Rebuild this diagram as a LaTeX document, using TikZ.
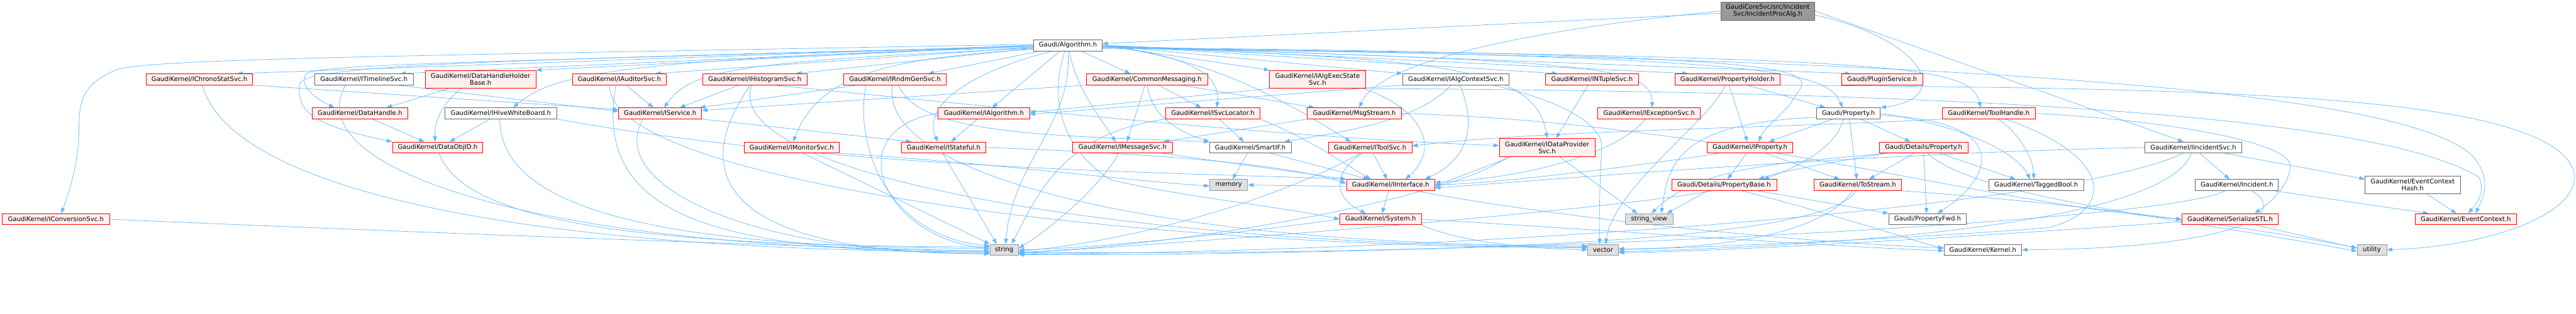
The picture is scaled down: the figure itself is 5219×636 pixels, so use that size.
\documentclass[tikz,border=0pt]{standalone}
\usepackage{fontspec}
\setmainfont{DejaVu Sans}
\usetikzlibrary{arrows.meta}
\definecolor{edgec}{HTML}{63B8FF}
\definecolor{redb}{HTML}{FF0000}
\definecolor{redf}{HTML}{FFF0F0}
\definecolor{grayb}{HTML}{666666}
\definecolor{lgrayb}{HTML}{999999}
\definecolor{lgrayf}{HTML}{E0E0E0}
\definecolor{rootf}{HTML}{999999}
\pgfdeclarelayer{bgw}
\pgfdeclarelayer{edges}
\pgfsetlayers{bgw,edges,main}
\newcommand\gnode[7]{\node[#2,minimum width=#5pt,minimum height=#6pt] (#1) at (#3,-#4) {#7};}
\tikzset{
  box/.style={inner sep=0pt,align=center,line width=1pt,font=\fontsize{12.9pt}{14pt}\selectfont},
  rn/.style={box,draw=redb,fill=redf},
  wn/.style={box,draw=grayb,fill=white},
  gn/.style={box,draw=lgrayb,fill=lgrayf},
  rootn/.style={box,draw=grayb,fill=rootf},
  e/.style={draw=edgec,line width=0.9pt,-{Triangle[length=11pt,width=8pt]}}
}
\begin{document}
\begin{tikzpicture}[x=1pt,y=1pt]
\useasboundingbox (0,0) rectangle (5219,-636);
\begin{pgfonlayer}{bgw}
\fill[white] (0,0) rectangle (5219,-636);
\end{pgfonlayer}
% row 0-1
\gnode{root}{rootn}{3581.5}{22.5}{191}{37}{GaudiCoreSvc/src/Incident\\Svc/IncidentProcAlg.h}
\gnode{alg}{wn}{2163.5}{92}{139}{22.5}{Gaudi/Algorithm.h}
% row 2
\gnode{chrono}{rn}{404}{161}{216}{22.5}{GaudiKernel/IChronoStatSvc.h}
\gnode{timeline}{wn}{737.3}{161}{200}{22.5}{GaudiKernel/ITimelineSvc.h}
\gnode{dhhb}{rn}{973.5}{161}{224.4}{36.5}{GaudiKernel/DataHandleHolder\\Base.h}
\gnode{auditor}{rn}{1254.7}{161}{190.7}{22.5}{GaudiKernel/IAuditorSvc.h}
\gnode{histo}{rn}{1529.2}{161}{211.7}{22.5}{GaudiKernel/IHistogramSvc.h}
\gnode{rndm}{rn}{1813.3}{161}{208}{22.5}{GaudiKernel/IRndmGenSvc.h}
\gnode{cmsg}{rn}{2323.9}{161}{245.7}{22.5}{GaudiKernel/CommonMessaging.h}
\gnode{aes}{rn}{2669.2}{161}{193.7}{36.5}{GaudiKernel/IAlgExecState\\Svc.h}
\gnode{actx}{wn}{2949.5}{161}{215.7}{22.5}{GaudiKernel/IAlgContextSvc.h}
\gnode{ntuple}{rn}{3225.5}{161}{187.7}{22.5}{GaudiKernel/INTupleSvc.h}
\gnode{pholder}{rn}{3500}{161}{213.3}{22.5}{GaudiKernel/PropertyHolder.h}
\gnode{plugin}{rn}{3813.3}{161}{163.3}{22.5}{Gaudi/PluginService.h}
% row 3
\gnode{dhandle}{rn}{729.2}{230}{193.7}{22.5}{GaudiKernel/DataHandle.h}
\gnode{hive}{wn}{1014.7}{230}{226.7}{22.5}{GaudiKernel/IHiveWhiteBoard.h}
\gnode{iservice}{rn}{1337.5}{230}{168.3}{22.5}{GaudiKernel/IService.h}
\gnode{ialg}{rn}{1993.2}{230}{185}{22.5}{GaudiKernel/IAlgorithm.h}
\gnode{svcloc}{rn}{2457.3}{230}{190.7}{22.5}{GaudiKernel/ISvcLocator.h}
\gnode{msgstream}{rn}{2743.8}{230}{191}{22.5}{GaudiKernel/MsgStream.h}
\gnode{exc}{rn}{3341.2}{230}{207.7}{22.5}{GaudiKernel/IExceptionSvc.h}
\gnode{prop}{wn}{3745}{230}{128.7}{22.5}{Gaudi/Property.h}
\gnode{toolh}{rn}{4029.2}{230}{188.3}{22.5}{GaudiKernel/ToolHandle.h}
% row 4
\gnode{dataobjid}{rn}{886.7}{299.3}{183.3}{22.5}{GaudiKernel/DataObjID.h}
\gnode{monitor}{rn}{1604}{299.3}{193.3}{22.5}{GaudiKernel/IMonitorSvc.h}
\gnode{stateful}{rn}{1911.8}{299.3}{171.7}{22.5}{GaudiKernel/IStateful.h}
\gnode{imsgsvc}{rn}{2274.3}{299.3}{202}{22.5}{GaudiKernel/IMessageSvc.h}
\gnode{smartif}{wn}{2533.2}{299.3}{165}{22.5}{GaudiKernel/SmartIF.h}
\gnode{toolsvc}{rn}{2775.8}{299.3}{169.7}{22.5}{GaudiKernel/IToolSvc.h}
\gnode{dps}{rn}{3134.5}{299.3}{193.7}{36.5}{GaudiKernel/IDataProvider\\Svc.h}
\gnode{iprop}{rn}{3545.3}{299.3}{174}{22.5}{GaudiKernel/IProperty.h}
\gnode{dprop}{rn}{3897.2}{299.3}{179}{22.5}{Gaudi/Details/Property.h}
\gnode{incsvc}{wn}{4443.8}{299.3}{195.7}{22.5}{GaudiKernel/IIncidentSvc.h}
% row 5
\gnode{memory}{gn}{2489.3}{375.3}{76.7}{22.5}{memory}
\gnode{iif}{rn}{2817.3}{375.3}{178.7}{22.5}{GaudiKernel/IInterface.h}
\gnode{pbase}{rn}{3493}{375.3}{212.7}{22.5}{Gaudi/Details/PropertyBase.h}
\gnode{tostream}{rn}{3763.8}{375.3}{177.7}{22.5}{GaudiKernel/ToStream.h}
\gnode{tagged}{wn}{4125.3}{375.3}{192}{22.5}{GaudiKernel/TaggedBool.h}
\gnode{incident}{wn}{4531.8}{375.3}{168.3}{22.5}{GaudiKernel/Incident.h}
\gnode{ech}{wn}{4888}{375.3}{192.7}{36}{GaudiKernel/EventContext\\Hash.h}
% row 6
\gnode{conv}{rn}{113.2}{444.7}{217}{22.5}{GaudiKernel/IConversionSvc.h}
\gnode{system}{rn}{2797.2}{444.7}{165.7}{22.5}{GaudiKernel/System.h}
\gnode{sv}{gn}{3341}{444.7}{96.7}{22.5}{string\_view}
\gnode{pfwd}{wn}{3905.3}{444.7}{157.3}{22.5}{Gaudi/PropertyFwd.h}
\gnode{sstl}{rn}{4518.3}{444.7}{195.3}{22.5}{GaudiKernel/SerializeSTL.h}
\gnode{evctx}{rn}{4995.7}{444.7}{204.7}{22.5}{GaudiKernel/EventContext.h}
% row 7
\gnode{string}{gn}{2034.5}{506.7}{57.7}{22}{string}
\gnode{vector}{gn}{3247.8}{506.7}{62.3}{22}{vector}
\gnode{kernel}{wn}{4017.2}{506.7}{157.7}{22}{GaudiKernel/Kernel.h}
\gnode{utility}{gn}{4805.5}{506.7}{59.7}{22}{utility}

\begin{pgfonlayer}{edges}
% root
\draw[e] (root) -- (alg);
\draw[e] (root.west) .. controls (3200,-50) and (2800,-110) .. ([xshift=10pt]msgstream.north);
\draw[e] (root.east) -- ([xshift=-20pt]incsvc.north);
\draw[e] ([yshift=-8pt]root.east) .. controls (3900,-80) and (3960,-200) .. (prop.north east);
% alg, left side
\draw[e] (alg.west) -- ([xshift=-32pt]chrono.north east);
\draw[e] ([yshift=2pt]alg.west) .. controls (900,-112) and (330,-118) .. (240,-140) .. controls (170,-168) and (160,-200) .. (160,-260) .. controls (160,-330) and (140,-390) .. ([xshift=11pt]conv.north);
\draw[e] (alg.west) -- ([xshift=-27pt]timeline.north east);
\draw[e] ([yshift=-2pt]alg.west) .. controls (1000,-125) and (640,-130) .. (620,-150) .. controls (605,-175) and (640,-200) .. ([xshift=-52pt]dhandle.north);
\draw[e] ([yshift=-2pt]alg.west) .. controls (1000,-122) and (620,-132) .. (607,-170) .. controls (600,-230) and (640,-255) .. (dataobjid.north west);
\draw[e] (alg.west) -- (dhhb.north east);
\draw[e] ([yshift=-4pt]alg.west) .. controls (1250,-120) and (1120,-150) .. ([xshift=25pt]hive.north);
\draw[e] ([yshift=-4pt]alg.west) -- ([xshift=-23pt]auditor.north east);
\draw[e] ([yshift=-6pt]alg.west) .. controls (1500,-125) and (1400,-140) .. ([xshift=8pt]iservice.north);
\draw[e] ([yshift=-6pt]alg.west) -- ([xshift=-23pt]histo.north east);
\draw[e] ([yshift=-8pt]alg.west) .. controls (1800,-118) and (1660,-150) .. ([xshift=3pt]monitor.north);
\draw[e] ([xshift=13pt]alg.south west) -- ([xshift=-37pt]rndm.north east);
\draw[e] ([xshift=38pt]alg.south west) .. controls (1950,-150) and (1870,-220) .. ([xshift=-12pt]stateful.north);
\draw[e] ([xshift=54pt]alg.south west) -- ([xshift=17pt]ialg.north);
\draw[e] ([xshift=64pt]alg.south west) .. controls (2125,-200) and (2150,-300) .. (2250,-365) .. controls (2400,-400) and (2600,-420) .. (system.west);
\draw[e] (alg.south) .. controls (2175,-250) and (2050,-330) .. ([xshift=3pt]string.north);
\draw[e] ([xshift=73pt]alg.south west) .. controls (2180,-180) and (2230,-240) .. ([xshift=-14pt]imsgsvc.north);
\draw[e] ([xshift=-43pt]alg.south east) -- ([xshift=-34pt]cmsg.north);
% alg, right side
\draw[e] (alg.east) .. controls (2380,-110) and (2475,-140) .. ([xshift=8pt]svcloc.north);
\draw[e] (alg.east) -- (aes.north west);
\draw[e] (alg.east) .. controls (2450,-120) and (2580,-190) .. ([xshift=-39pt]toolsvc.north);
\draw[e] (alg.east) -- (actx.north west);
\draw[e] (alg.east) -- ([xshift=-70pt]ntuple.north);
\draw[e] ([yshift=-2pt]alg.east) .. controls (2900,-120) and (3110,-130) .. (dps.north);
\draw[e] ([yshift=-2pt]alg.east) .. controls (3200,-125) and (3347,-130) .. ([xshift=6pt]exc.north);
\draw[e] (alg.east) -- ([xshift=27pt]pholder.north west);
\draw[e] ([yshift=-4pt]alg.east) .. controls (3680,-110) and (3680,-140) .. (3640,-190) .. controls (3620,-230) and (3575,-255) .. ([xshift=18pt]iprop.north);
\draw[e] ([yshift=-4pt]alg.east) .. controls (3560,-115) and (3700,-140) .. ([xshift=-12pt]prop.north);
\draw[e] (alg.east) -- ([xshift=18pt]plugin.north west);
\draw[e] ([yshift=-6pt]alg.east) .. controls (3900,-115) and (3990,-135) .. ([xshift=-16pt]toolh.north);
\draw[e] ([yshift=-6pt]alg.east) .. controls (4200,-120) and (4900,-200) .. (5013,-320) .. controls (5050,-370) and (5030,-400) .. ([xshift=20pt]evctx.north);
% chrono, timeline, dhhb, dhandle
\draw[e] (chrono.south east) -- ([yshift=8pt]iservice.west);
\draw[e] ([xshift=6pt]chrono.south) .. controls +(-75:230pt) and +(-900,0) .. ([yshift=-4pt]string.west);
\draw[e] ([xshift=-34pt]timeline.south east) -- ([yshift=4pt]iservice.west);
\draw[e] ([xshift=-37pt]timeline.south) .. controls +(-120:200pt) and +(-900,0) .. ([yshift=-2pt]string.west);
\draw[e] ([xshift=-65pt]dhhb.south) -- ([xshift=54pt]dhandle.north);
\draw[e] ([xshift=-39pt]dhhb.south) .. controls (890,-215) and (880,-250) .. ([xshift=-5pt]dataobjid.north);
\draw[e] ([xshift=26pt]dhandle.south) -- ([xshift=-27pt]dataobjid.north);
% auditor, histo, rndm
\draw[e] ([xshift=-82pt]auditor.south east) -- ([xshift=-14pt]iservice.north);
\draw[e] ([xshift=-7pt]auditor.south) .. controls +(-100:250pt) and +(-600,0) .. ([yshift=-6pt]string.west);
\draw[e] ([xshift=-20pt]auditor.south) .. controls +(0,-200) and +(-900,0) .. ([yshift=4pt]vector.west);
\draw[e] ([xshift=-32pt]histo.south) -- ([xshift=-45pt]iservice.north east);
\draw[e] ([xshift=-9pt]histo.south) .. controls +(-125:250pt) and +(-500,0) .. ([yshift=-8pt]string.west);
\draw[e] ([xshift=-6pt]histo.south) .. controls +(-110:200pt) and +(-900,0) .. ([yshift=6pt]vector.west);
\draw[e] ([xshift=38pt]histo.south) .. controls (2000,-215) and (2600,-280) .. ([yshift=4pt]dps.west);
\draw[e] ([xshift=28pt]rndm.south west) -- ([xshift=-4pt]iservice.north east);
\draw[e] ([xshift=-59pt]rndm.south) .. controls (1730,-300) and (1800,-480) .. ([yshift=8pt]string.west);
\draw[e] ([xshift=-5pt]rndm.south) .. controls +(-100:180pt) and +(-900,0) .. ([yshift=8pt]vector.west);
\draw[e] ([xshift=7pt]rndm.south) .. controls (1860,-270) and (2100,-275) .. (smartif.north west);
% cmsg
\draw[e] (cmsg.south west) -- ([yshift=6pt]iservice.east);
\draw[e] ([xshift=-4pt]cmsg.south) -- ([xshift=9pt]imsgsvc.north);
\draw[e] ([xshift=1pt]cmsg.south) .. controls (2330,-230) and (2380,-265) .. (smartif.north west);
\draw[e] ([xshift=23pt]cmsg.south) -- ([xshift=-24pt]svcloc.north);
\draw[e] ([xshift=-54pt]cmsg.south east) -- ([xshift=-81pt]msgstream.north);
% aes, actx, ntuple
\draw[e] (aes.south west) -- ([yshift=2pt]ialg.east);
\draw[e] ([xshift=-4pt]aes.south east) .. controls (2880,-220) and (2920,-300) .. ([xshift=30pt]iif.north);
\draw[e] (aes.south east) .. controls (3800,-185) and (4800,-220) .. (5023,-360) .. controls (5035,-390) and (5020,-410) .. ([xshift=5pt]evctx.north);
\draw[e] (actx.south west) -- ([yshift=-2pt]ialg.east);
\draw[e] ([xshift=8pt]actx.south) .. controls (2990,-250) and (2980,-320) .. ([xshift=-20pt]iif.north east);
\draw[e] ([xshift=-10pt]actx.south) .. controls (2870,-250) and (2700,-270) .. ([xshift=-14pt]smartif.north east);
\draw[e] ([xshift=-34pt]actx.south east) .. controls (3150,-200) and (3250,-250) .. (3245,-300) .. controls (3240,-400) and (3240,-450) .. ([xshift=-7pt]vector.north);
\draw[e] ([xshift=-8pt]ntuple.south) -- ([xshift=18pt]dps.north);
% pholder
\draw[e] ([xshift=3pt]pholder.south) -- ([xshift=-5pt]iprop.north);
\draw[e] ([xshift=40pt]pholder.south) -- ([xshift=-47pt]prop.north);
\draw[e] ([xshift=-5pt]pholder.south) .. controls (3470,-240) and (3270,-380) .. ([xshift=5pt]vector.north);
\draw[e] (pholder.south east) .. controls (4500,-180) and (5150,-190) .. (5213,-343) .. controls (5240,-430) and (5050,-500) .. (utility.east);
% prop
\draw[e] ([xshift=-32pt]prop.south) -- ([xshift=38pt]iprop.north);
\draw[e] ([xshift=-10pt]prop.south) .. controls (3720,-300) and (3640,-340) .. ([xshift=80pt]pbase.north);
\draw[e] ([xshift=2pt]prop.south) -- ([xshift=-2pt]tostream.north);
\draw[e] ([xshift=25pt]prop.south) -- ([xshift=-27pt]dprop.north);
\draw[e] (prop.east) .. controls (3950,-250) and (4080,-300) .. ([xshift=-12pt]tagged.north);
\draw[e] ([yshift=-4pt]prop.east) .. controls (4080,-245) and (4040,-360) .. ([xshift=20pt]pfwd.north);
\draw[e] ([yshift=-8pt]prop.west) .. controls (3400,-250) and (3380,-330) .. ([xshift=25pt]sv.north);
% toolh
\draw[e] (toolh.south west) .. controls (3600,-260) and (3100,-265) .. ([yshift=3pt]toolsvc.east);
\draw[e] ([xshift=19pt]toolh.south) .. controls (4090,-270) and (4120,-320) .. ([xshift=-5pt]tagged.north);
\draw[e] (toolh.east) .. controls (4400,-245) and (4650,-290) .. (4640,-340) .. controls (4635,-380) and (4600,-410) .. ([xshift=50pt]sstl.north);
\draw[e] ([xshift=34pt]toolh.south) .. controls (4290,-320) and (4280,-430) .. (4150,-462) .. controls (3900,-482) and (3500,-500) .. (vector.east);
% dataobjid, hive
\draw[e] ([xshift=3pt]dataobjid.south) .. controls +(-70:150pt) and +(-700,0) .. ([yshift=6pt]string.west);
\draw[e] ([xshift=-22pt]hive.south) -- ([xshift=-68pt]dataobjid.north east);
\draw[e] ([xshift=-2pt]hive.south) .. controls +(0,-200) and +(-600,0) .. ([yshift=3pt]string.west);
\draw[e] (hive.south east) .. controls (1700,-345) and (2400,-350) .. (iif.north west);
% iservice, ialg, svcloc, msgstream, exc
\draw[e] (iservice.south east) -- ([xshift=-65pt]stateful.north);
\draw[e] ([xshift=-35pt]iservice.south) .. controls +(-120:150pt) and +(-500,0) .. ([yshift=-8pt]string.west);
\draw[e] ([xshift=-13pt]ialg.south) -- ([xshift=15pt]stateful.north);
\draw[e] (ialg.west) .. controls (1700,-260) and (1780,-480) .. ([yshift=2pt]string.west);
\draw[e] ([xshift=13pt]svcloc.south) -- ([xshift=-13pt]smartif.north);
\draw[e] (svcloc.south west) .. controls (2150,-270) and (2100,-400) .. ([xshift=15pt]string.north);
\draw[e] (svcloc.south east) .. controls (2650,-280) and (2720,-330) .. ([xshift=-40pt]iif.north);
\draw[e] (msgstream.south west) -- ([xshift=83pt]imsgsvc.north);
\draw[e] (msgstream.east) .. controls (3500,-250) and (4000,-410) .. (sstl.west);
\draw[e] ([xshift=-8pt]exc.south) .. controls (3280,-310) and (3100,-360) .. ([yshift=5pt]iif.east);
% row 4 sources
\draw[e] ([xshift=-2pt]stateful.south) -- ([xshift=-15pt]string.north);
\draw[e] (stateful.east) .. controls (2300,-310) and (2600,-330) .. ([yshift=3pt]iif.west);
\draw[e] ([xshift=23pt]monitor.south) -- (string.north west);
\draw[e] (monitor.south east) .. controls (2000,-330) and (2300,-368) .. ([yshift=-2pt]memory.west);
\draw[e] ([xshift=-8pt]imsgsvc.south) .. controls (2230,-380) and (2120,-470) .. ([yshift=3pt]string.east);
\draw[e] ([xshift=80pt]imsgsvc.south) -- (iif.north west);
\draw[e] ([xshift=-6pt]smartif.south) -- ([xshift=8pt]memory.north);
\draw[e] ([xshift=40pt]smartif.south) -- ([xshift=-44pt]iif.north);
\draw[e] ([xshift=6pt]toolsvc.south) -- ([xshift=-7pt]iif.north);
\draw[e] ([xshift=-16pt]toolsvc.south) .. controls (2700,-350) and (2700,-400) .. ([xshift=-30pt]system.north);
\draw[e] ([xshift=-20pt]toolsvc.south) .. controls (2600,-400) and (2300,-490) .. ([yshift=-3pt]string.east);
\draw[e] ([xshift=25pt]dps.south) -- ([xshift=-24pt]sv.north);
\draw[e] ([xshift=-72pt]dps.south) -- ([yshift=-2pt]iif.east);
\draw[e] ([xshift=-80pt]dps.south) .. controls (2950,-400) and (2400,-500) .. ([yshift=-5pt]string.east);
\draw[e] ([xshift=-7pt]iprop.south) -- ([xshift=7pt]pbase.north);
\draw[e] ([xshift=32pt]iprop.south) -- ([xshift=-37pt]tostream.north);
\draw[e] ([xshift=-63pt]iprop.south) .. controls (3300,-340) and (3000,-375) .. ([yshift=1pt]iif.east);
\draw[e] ([xshift=-74pt]dprop.south) .. controls (3700,-330) and (3600,-350) .. ([xshift=70pt]pbase.north);
\draw[e] ([xshift=-20pt]dprop.south) -- ([xshift=23pt]tostream.north);
\draw[e] (dprop.south) -- ([xshift=-2pt]pfwd.north);
\draw[e] ([xshift=33pt]dprop.south) -- ([xshift=-42pt]tagged.north);
\draw[e] ([xshift=8pt]dprop.south) .. controls (4000,-400) and (4400,-440) .. ([yshift=-3pt]utility.west);
\draw[e] ([xshift=-80pt]dprop.south) .. controls (3650,-330) and (3450,-330) .. ([xshift=5pt]sv.north);
\draw[e] ([xshift=13pt]incsvc.south) -- ([xshift=-15pt]incident.north);
\draw[e] (incsvc.west) .. controls (3800,-310) and (3200,-360) .. ([yshift=-6pt]iif.east);
\draw[e] ([xshift=-21pt]incsvc.south) .. controls (4200,-420) and (3000,-510) .. ([yshift=-9pt]string.east);
\draw[e] ([xshift=-4pt]incsvc.south) .. controls (4400,-420) and (4000,-490) .. ([yshift=-4pt]vector.east);
\draw[e] ([xshift=64pt]incsvc.south) -- ([yshift=12pt]ech.west);
% row 5 sources
\draw[e] ([xshift=-4pt]iif.south) -- ([xshift=3pt]system.north);
\draw[e] ([yshift=-3pt]iif.west) -- (memory.east);
\draw[e] ([xshift=50pt]iif.south) .. controls (3200,-450) and (3700,-495) .. ([yshift=4pt]kernel.west);
\draw[e] ([xshift=67pt]pbase.south) -- (pfwd.north west);
\draw[e] ([xshift=-33pt]pbase.south) -- ([xshift=36pt]sv.north);
\draw[e] ([xshift=35pt]pbase.south) .. controls (3700,-430) and (3850,-480) .. ([yshift=2pt]kernel.west);
\draw[e] ([xshift=-25pt]pbase.south) .. controls (3300,-420) and (2600,-480) .. ([yshift=-7pt]string.east);
\draw[e] ([xshift=-11pt]tostream.south) .. controls (3700,-470) and (3500,-505) .. ([yshift=2pt]vector.east);
\draw[e] ([xshift=-4pt]tostream.south) .. controls (3700,-500) and (2800,-515) .. ([yshift=-6pt]string.east);
\draw[e] (tostream.south east) .. controls (4300,-420) and (4600,-470) .. ([yshift=4pt]utility.west);
\draw[e] ([xshift=-10pt]incident.south east) -- ([xshift=27pt]evctx.north west);
\draw[e] ([xshift=-24pt]incident.south) .. controls (4400,-450) and (3000,-520) .. ([yshift=-10pt]string.east);
\draw[e] ([xshift=30pt]incident.south) .. controls (4650,-440) and (4500,-505) .. (kernel.east);
\draw[e] ([xshift=29pt]ech.south) -- ([xshift=-19pt]evctx.north);
% row 6 sources
\draw[e] (conv.east) .. controls (800,-470) and (1600,-500) .. ([yshift=-3pt]string.west);
\draw[e] (system.east) .. controls (3300,-470) and (3700,-500) .. ([yshift=-2pt]kernel.west);
\draw[e] (system.west) .. controls (2500,-475) and (2200,-505) .. (string.east);
\draw[e] (system.south east) .. controls (2950,-490) and (3100,-505) .. (vector.west);
\draw[e] ([yshift=-5pt]sstl.west) .. controls (4000,-480) and (3500,-510) .. ([yshift=-6pt]vector.east);
\draw[e] ([xshift=52pt]sstl.south) -- ([yshift=3pt]utility.west);
\end{pgfonlayer}
\end{tikzpicture}
\end{document}
